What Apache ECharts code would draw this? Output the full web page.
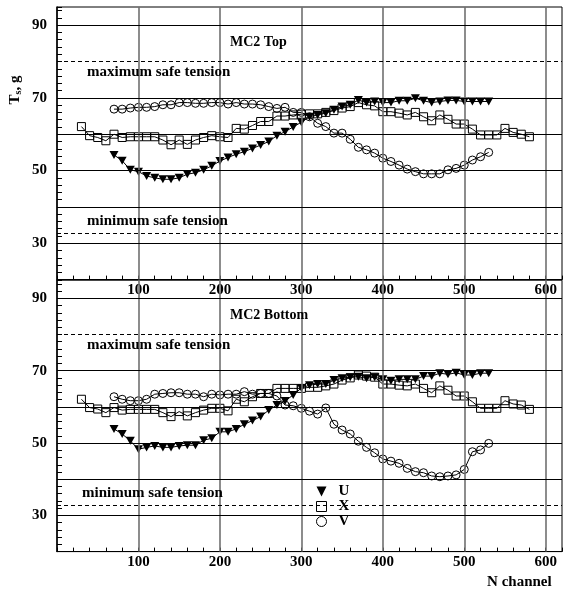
<!DOCTYPE html>
<html>
<head>
<meta charset="utf-8">
<script src="https://cdn.jsdelivr.net/npm/echarts@6/dist/echarts.min.js"></script>
<style>
html,body{margin:0;padding:0;background:#fff;}
#c{width:565px;height:591px;}
</style>
</head>
<body>
<div id="c"></div>
<script>
// ---- data ----
const uvChannels = [70,80,90,100,110,120,130,140,150,160,170,180,190,200,210,220,230,240,250,260,270,280,290,300,310,320,330,340,350,360,370,380,390,400,410,420,430,440,450,460,470,480,490,500,510,520,530];
const xChannels = [30,40,50,60,70,80,90,100,110,120,130,140,150,160,170,180,190,200,210,220,230,240,250,260,270,280,290,300,310,320,330,340,350,360,370,380,390,400,410,420,430,440,450,460,470,480,490,500,510,520,530,540,550,560,570,580];

const topU = [54.3,52.7,50.2,49.7,48.5,48.0,47.6,47.6,48.0,49.0,49.4,50.2,51.3,52.6,53.6,54.5,55.2,56.1,57.0,58.0,59.6,60.7,62.0,63.3,64.8,65.3,65.8,66.7,67.6,68.1,69.4,68.7,69.0,68.7,68.7,69.2,69.2,69.9,69.2,68.7,69.0,69.3,69.3,69.0,69.0,69.0,69.0];
const topX = [62.1,59.6,59.1,58.2,60.0,59.1,59.3,59.3,59.3,59.3,58.4,57.1,58.4,57.2,58.4,59.1,59.6,59.3,59.1,61.6,61.4,62.4,63.5,63.5,65.0,65.0,65.3,65.5,65.6,65.6,66.0,66.5,67.2,67.6,68.7,68.1,67.8,66.2,66.2,65.8,65.3,66.0,64.8,63.7,65.3,64.1,62.8,62.8,61.4,59.8,59.8,59.8,61.6,60.5,60.0,59.3];
const topV = [66.9,66.9,67.2,67.4,67.4,67.6,68.1,68.1,68.7,68.7,68.5,68.5,68.7,68.7,68.3,68.7,68.3,68.3,68.1,67.6,67.1,67.4,66.0,66.0,64.8,63.0,62.1,60.3,60.3,58.6,56.4,55.7,54.8,53.4,52.5,51.5,50.4,49.7,49.1,49.1,49.1,50.2,50.6,51.5,52.9,53.8,55.0];

const botU = [53.9,52.5,50.6,48.3,48.8,49.2,48.8,48.8,49.2,49.4,49.4,50.8,51.3,53.1,53.1,53.9,55.2,56.2,57.3,59.1,60.5,61.6,63.3,65.2,66.0,66.3,66.3,67.4,67.9,68.2,68.3,67.9,68.2,67.6,67.2,67.6,67.6,67.6,68.5,68.5,69.3,69.0,69.4,68.8,68.8,69.3,69.3];
const botX = [62.1,59.8,59.4,58.4,59.8,59.1,59.3,59.3,59.3,59.3,58.4,57.3,58.7,57.5,58.4,59.1,59.6,59.6,58.9,62.1,61.4,62.8,63.7,63.7,65.1,65.1,65.1,65.1,65.4,65.4,65.8,66.3,67.4,68.0,68.8,68.5,68.2,66.3,66.3,66.0,65.8,66.3,65.1,63.9,65.8,64.6,63.0,63.0,61.4,59.6,59.6,59.6,61.7,60.8,60.5,59.3];
const botV = [62.8,62.1,61.7,61.7,62.1,63.5,63.7,63.9,63.9,63.5,63.5,62.8,63.5,63.3,63.5,63.5,64.2,63.5,63.7,63.7,63.0,60.5,60.3,59.6,58.8,58.0,59.7,55.2,53.6,52.5,50.5,48.8,47.3,45.6,45.0,44.4,43.0,42.1,41.8,40.9,40.7,40.9,41.2,42.7,47.6,48.1,49.9];

const gridLevels = [30, 40, 50, 60, 70, 90];
const safeMax = 80;
const safeMin = 32.7;
const channelLines = [100, 200, 300, 400, 500, 600];
const yLabelValues = [30, 50, 70, 90];
const xLabelValues = [100, 200, 300, 400, 500, 600];

// ---- chart ----
const FONT = '"Liberation Serif", "Times New Roman", serif';
const chart = echarts.init(document.getElementById('c'), null, {renderer: 'canvas'});
const pair = (xs, ys) => xs.map((x, i) => [x, ys[i]]);
const TRI = 'path://M0,0L10,0L5,10Z';
const HOLLOW = 'rgba(255,255,255,0)';

function xAxisFor(idx) {
  return {
    gridIndex: idx, type: 'value', min: 0, max: 620, interval: 20,
    axisLine: {show: true, lineStyle: {color: '#000', width: 1}},
    axisTick: {show: true, inside: true, length: 4, lineStyle: {color: '#000', width: 1}},
    axisLabel: {
      show: true, margin: 3, color: '#000', fontFamily: FONT, fontWeight: 'bold', fontSize: 15,
      formatter: v => xLabelValues.indexOf(Math.round(v)) >= 0 ? String(Math.round(v)) : ''
    },
    splitLine: {show: false}
  };
}
function yAxisFor(idx) {
  return {
    gridIndex: idx, type: 'value', min: 20, max: 95, interval: 2,
    axisLine: {show: true, lineStyle: {color: '#000', width: 1.5}},
    axisTick: {show: true, inside: true, length: 5, lineStyle: {color: '#000', width: 1}},
    axisLabel: {
      show: true, margin: 10, color: '#000', fontFamily: FONT, fontWeight: 'bold', fontSize: 15,
      formatter: v => yLabelValues.indexOf(Math.round(v)) >= 0 ? String(Math.round(v)) : ''
    },
    splitLine: {show: false}
  };
}
function refSeries(idx) {
  const d = [];
  channelLines.forEach(v => d.push({xAxis: v, lineStyle: {color: '#707070', width: 1.6, type: 'solid'}}));
  gridLevels.forEach(v => d.push({yAxis: v, lineStyle: {color: '#000', width: 1, type: 'solid'}}));
  d.push({yAxis: safeMax, lineStyle: {color: '#000', width: 1, type: [4, 3]}});
  d.push({yAxis: safeMin, lineStyle: {color: '#000', width: 1, type: [4, 3]}});
  return {
    type: 'line', xAxisIndex: idx, yAxisIndex: idx, data: [], z: 1, silent: true,
    markLine: {silent: true, symbol: ['none', 'none'], label: {show: false}, animation: false, data: d}
  };
}
function dataSeries(idx, u, x, v) {
  const common = {type: 'line', xAxisIndex: idx, yAxisIndex: idx, z: 3, animation: false,
    showAllSymbol: true, lineStyle: {color: '#000', width: 1}};
  return [
    Object.assign({}, common, {name: 'X', data: pair(xChannels, x), symbol: 'rect', symbolSize: 8,
      itemStyle: {color: HOLLOW, borderColor: '#000', borderWidth: 1}}),
    Object.assign({}, common, {name: 'V', data: pair(uvChannels, v), symbol: 'circle', symbolSize: 8,
      itemStyle: {color: HOLLOW, borderColor: '#000', borderWidth: 1}}),
    Object.assign({}, common, {name: 'U', data: pair(uvChannels, u), symbol: TRI, symbolSize: [9, 8],
      itemStyle: {color: '#000', borderColor: '#000', borderWidth: 0}})
  ];
}

function txt(x, y, text, size, align) {
  return {type: 'text', x: x, y: y, z: 10,
    style: {text: text, fill: '#000', font: 'bold ' + size + 'px ' + FONT,
      align: align || 'left', verticalAlign: 'middle'}};
}

const option = {
  backgroundColor: '#fff',
  animation: false,
  grid: [
    {left: 57, top: 7, width: 510.5, height: 272.6, show: true, borderColor: '#000', borderWidth: 1, containLabel: false},
    {left: 57, top: 280.2, width: 510.5, height: 271.4, show: true, borderColor: '#000', borderWidth: 1, containLabel: false}
  ],
  xAxis: [xAxisFor(0), xAxisFor(1)],
  yAxis: [yAxisFor(0), yAxisFor(1)],
  legend: {
    show: true, orient: 'vertical', left: 316, top: 484, itemWidth: 10, itemHeight: 10, itemGap: 0,
    padding: 0,
    selectedMode: false,
    textStyle: {fontFamily: FONT, fontWeight: 'bold', fontSize: 15, color: '#000', lineHeight: 10, padding: [0, 0, 0, 7]},
    data: [
      {name: 'U', icon: TRI, itemStyle: {color: '#000', borderWidth: 0}},
      {name: 'X', icon: 'rect', itemStyle: {color: '#fff', borderColor: '#000', borderWidth: 1}},
      {name: 'V', icon: 'circle', itemStyle: {color: '#fff', borderColor: '#000', borderWidth: 1}}
    ]
  },
  graphic: [
    txt(230, 42.7, 'MC2 Top', 14),
    txt(87, 71.7, 'maximum safe tension', 15),
    txt(87, 220.7, 'minimum safe tension', 15),
    txt(230, 315, 'MC2 Bottom', 14),
    txt(87, 345, 'maximum safe tension', 15),
    txt(82, 493.3, 'minimum safe tension', 15),
    txt(551.7, 581.7, 'N channel', 15, 'right'),
    {type: 'text', x: 15, y: 90, rotation: Math.PI / 2, z: 10,
      style: {text: '{a|T}{b|s}{a|, g}', align: 'center', verticalAlign: 'middle', fill: '#000',
        rich: {
          a: {fontFamily: FONT, fontWeight: 'bold', fontSize: 15, fill: '#000'},
          b: {fontFamily: FONT, fontWeight: 'bold', fontSize: 10, fill: '#000', padding: [7, 0, 0, 0]}
        }}}
  ],
  series: [refSeries(0), refSeries(1)]
    .concat(dataSeries(0, topU, topX, topV))
    .concat(dataSeries(1, botU, botX, botV))
};
chart.setOption(option);
</script>
</body>
</html>
